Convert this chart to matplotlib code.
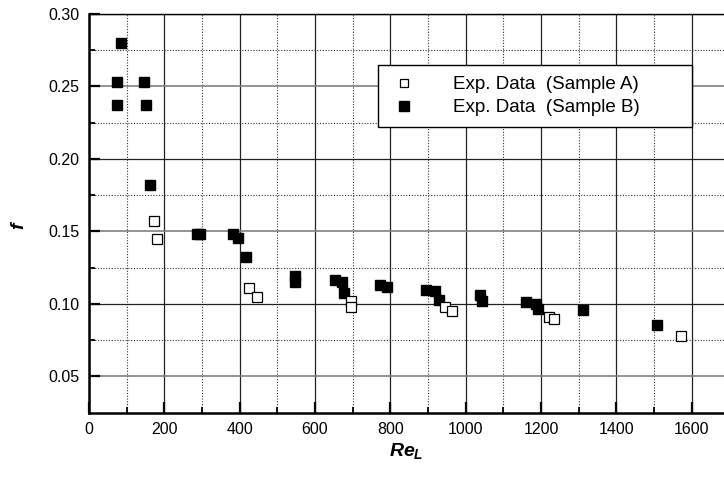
import numpy as np
import matplotlib
matplotlib.use("Agg")
import matplotlib.pyplot as plt

plt.rcParams['font.family'] = ['Liberation Sans', 'DejaVu Sans']
plt.rcParams['mathtext.fontset'] = 'custom'
plt.rcParams['mathtext.it'] = 'Liberation Sans:italic:bold'
plt.rcParams['mathtext.rm'] = 'Liberation Sans:bold'

# sample A (open squares)
re_a = np.array([173, 180, 426, 445, 695, 695, 945, 963, 1220, 1234, 1573])
f_a = np.array([0.157, 0.1445, 0.1108, 0.1046, 0.1017, 0.0982, 0.0982, 0.095,
                0.0911, 0.0895, 0.0782])

# sample B (filled squares)
re_b = np.array([85, 74, 147, 75, 151, 162, 286, 295, 383, 395, 416, 546, 546,
                 653, 671, 678, 772, 790, 896, 918, 930, 1038, 1044, 1160, 1187,
                 1193, 1312, 1509])
f_b = np.array([0.280, 0.2534, 0.2534, 0.2369, 0.2369, 0.1823, 0.1484, 0.1482,
                0.1484, 0.1457, 0.1326, 0.119, 0.1149, 0.1163, 0.1154, 0.1078,
                0.113, 0.1117, 0.1094, 0.1087, 0.1027, 0.106, 0.1021, 0.1014,
                0.0998, 0.0968, 0.0959, 0.0853])

fig = plt.figure(figsize=(7.24, 4.79), dpi=100)
# axes run past the right edge of the picture, like the original crop
ax = fig.add_axes([0.1229, 0.1384, 0.9365, 0.8324])

hb, = ax.plot(re_b, f_b, 's', color='black', ms=7.8, ls='none',
              label='Exp. Data  (Sample B)', zorder=3)
ha, = ax.plot(re_a, f_a, 's', mfc='white', mec='black', mew=0.9, ms=7.6,
              ls='none', label='Exp. Data  (Sample A)', zorder=4)

ax.set_xlim(0, 1800)
ax.set_ylim(0.025, 0.30)
ax.set_xticks(np.arange(0, 1601, 200))
ax.set_xticks(np.arange(100, 1800, 200), minor=True)
ax.set_yticks(np.arange(0.05, 0.301, 0.05))
ax.set_yticks(np.arange(0.075, 0.30, 0.05), minor=True)
ax.set_yticklabels([f"{v:.2f}" for v in np.arange(0.05, 0.301, 0.05)])

ax.set_axisbelow(True)
ax.grid(which='major', color='#222222', lw=0.9, ls='-')
ax.grid(which='minor', color='#333333', lw=0.8, ls=(0, (1, 1.5)))
# the scanned original shows every other horizontal line lighter
for gl, v in zip(ax.get_ygridlines(), ax.get_yticks()):
    if round(v / 0.05) % 2 == 1:
        gl.set_color('#808080')
        gl.set_linewidth(1.2)

ax.tick_params(which='major', direction='in', length=8, width=1.6,
               labelsize=11.5, pad=7, top=False, right=False)
ax.tick_params(which='minor', direction='in', length=4, width=1.3,
               top=False, right=False)
ax.spines['left'].set_linewidth(1.8)
ax.spines['bottom'].set_linewidth(1.8)
ax.spines['top'].set_linewidth(1.0)

ax.set_xlabel(r'$Re_L$', fontsize=14)
ax.xaxis.set_label_coords(0.468, -0.07)
ax.set_ylabel(r'$f$', fontsize=14, rotation=90)
ax.yaxis.set_label_coords(-0.09, 0.47)

leg = ax.legend(handles=[ha, hb], loc='upper left',
                bbox_to_anchor=(0.426, 0.726, 0.463, 0.146), mode='expand',
                borderaxespad=0, fancybox=False, framealpha=1, edgecolor='black',
                fontsize=13.5, markerscale=0.85, handletextpad=1.8,
                handlelength=1.6, borderpad=0.6, labelspacing=0.3)
leg.get_frame().set_linewidth(1.0)

fig.savefig("out.png", dpi=100)
